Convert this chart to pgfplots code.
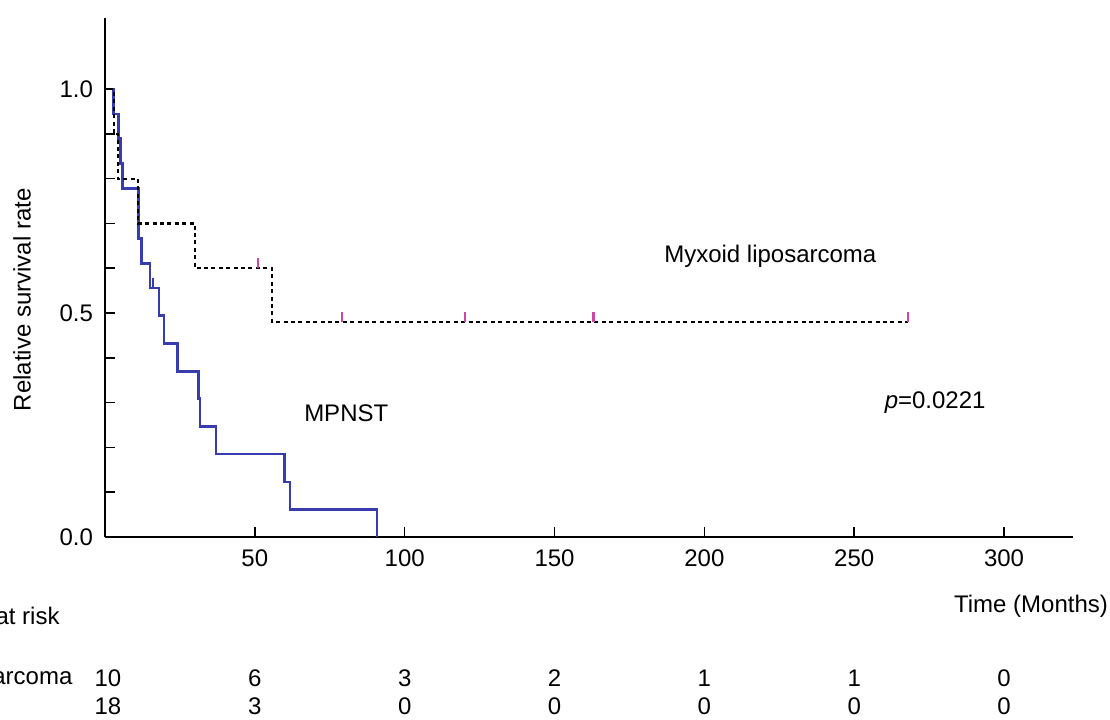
\documentclass[border=0pt]{standalone}
\usepackage{fontspec}
\setmainfont{Liberation Sans}
\usepackage{pgfplots}
\pgfplotsset{compat=1.18}
\definecolor{kmblue}{RGB}{55,60,175}
\definecolor{censor}{RGB}{205,70,165}
\pgfplotstableread{
t s
1.5 1.0
2.8 0.944
4.4 0.889
5.2 0.833
5.8 0.778
11.1 0.667
12.2 0.611
15.0 0.556
18.0 0.494
19.7 0.432
24.1 0.370
31.1 0.309
31.7 0.247
37.0 0.185
59.8 0.123
61.7 0.062
90.8 0.0
}\mpnst
\pgfplotstableread{
t s
1.5 1.0
3.0 0.9
4.4 0.8
11.0 0.7
30.0 0.6
55.7 0.48
268.0 0.48
}\lipo
\begin{document}
\begin{tikzpicture}[font=\fontsize{12}{14}\selectfont]
\begin{axis}[
  name=km, at={(0,0)}, anchor=south west,
  width=484pt, height=259.5pt, scale only axis,
  xmin=0, xmax=323, ymin=0, ymax=1.1585,
  axis x line*=bottom, axis y line*=left,
  axis line style={line width=0.9pt,-},
  tick align=inside, major tick length=5pt,
  tick style={line width=0.8pt, black},
  xtick={50,100,150,200,250,300},
  ytick={0,0.1,0.2,0.3,0.4,0.5,0.6,0.7,0.8,0.9,1.0},
  yticklabels={0.0,,,,,0.5,,,,,1.0},
  /pgf/number format/assume math mode=true,
  tick label style={font=\fontsize{12}{14}\selectfont},
  yticklabel style={xshift=-2.5pt},
  xticklabel style={yshift=-3pt},
  ylabel={Relative survival rate},
  ylabel style={at={(axis description cs:-0.0857,0.457)}, anchor=center, font=\fontsize{12}{14}\selectfont},
  clip=false,
]
\addplot[const plot, kmblue, line width=1.35pt] table[x=t,y=s]{\mpnst};
\addplot[const plot, black, line width=1.1pt, dash pattern=on 2pt off 1.7pt] table[x=t,y=s]{\lipo};
\addplot[only marks, censor, mark=|, mark size=2.5pt, mark options={yshift=2.5pt, line width=1.1pt}] coordinates {(51,0.6) (79,0.48) (120,0.48) (163,0.48) (268,0.48)};
\addplot[only marks, kmblue, mark=|, mark size=2.5pt, mark options={yshift=2.5pt, line width=1pt}] coordinates {(16,0.556)};
\node at (axis cs:222,0.627) {Myxoid liposarcoma};
\node at (axis cs:80.5,0.277) {MPNST};
\node at (axis cs:277,0.301) {\textit{p}=0.0221};
% numbers at risk
\node at (axis cs:1,0) [yshift=-70.5pt] {10};
\node at (axis cs:50,0) [yshift=-70.5pt] {6};
\node at (axis cs:100,0) [yshift=-70.5pt] {3};
\node at (axis cs:150,0) [yshift=-70.5pt] {2};
\node at (axis cs:200,0) [yshift=-70.5pt] {1};
\node at (axis cs:250,0) [yshift=-70.5pt] {1};
\node at (axis cs:300,0) [yshift=-70.5pt] {0};
\node at (axis cs:1,0) [yshift=-84.5pt] {18};
\node at (axis cs:50,0) [yshift=-84.5pt] {3};
\node at (axis cs:100,0) [yshift=-84.5pt] {0};
\node at (axis cs:150,0) [yshift=-84.5pt] {0};
\node at (axis cs:200,0) [yshift=-84.5pt] {0};
\node at (axis cs:250,0) [yshift=-84.5pt] {0};
\node at (axis cs:300,0) [yshift=-84.5pt] {0};
\end{axis}
\node at (463pt,-34.5pt) {Time (Months)};
\node[anchor=east, inner sep=0pt] at (-22.5pt,-39.5pt) {Number at risk};
\node[anchor=west, inner sep=0pt] at (-122.5pt,-70.5pt) {Myxoid liposarcoma};
\node[anchor=west, inner sep=0pt] at (-122.5pt,-84.5pt) {MPNST};
\pgfresetboundingbox
\useasboundingbox (-52.5pt,-91pt) rectangle (502.5pt,268.5pt);
\end{tikzpicture}
\end{document}
